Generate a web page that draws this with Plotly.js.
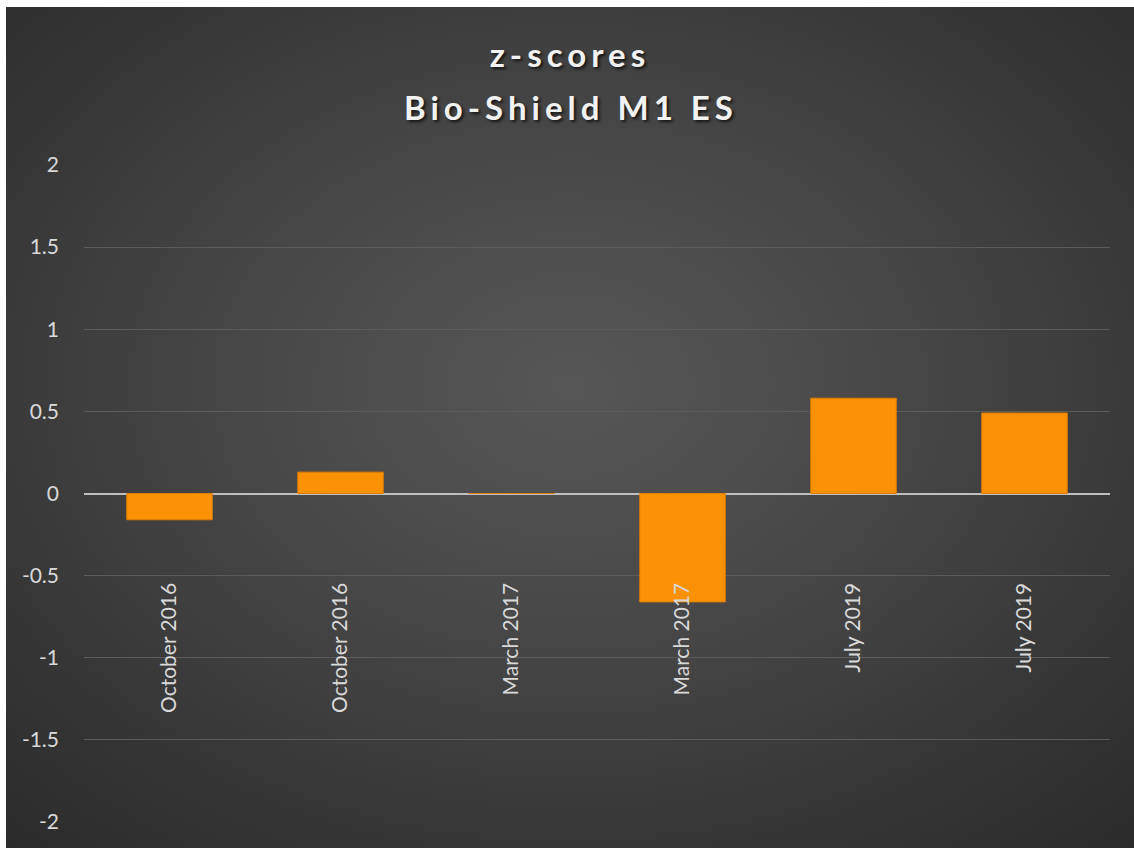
<!DOCTYPE html>
<html>
<head>
<meta charset="utf-8">
<script src="https://cdn.plot.ly/plotly-3.0.1.min.js"></script>
<style>
  html, body { margin: 0; padding: 0; background: #ffffff; }
  #chart {
    position: absolute; left: 6px; top: 7px; width: 1128px; height: 841px;
    background: radial-gradient(ellipse 75% 75% at 50% 45%, #575757 0%, #474747 40%, #333333 80%, #2b2b2b 100%);
  }
  #chart .gtitle, #chart .annotation-text { letter-spacing: 5px; }
</style>
</head>
<body>
<div id="chart"></div>
<script>
const categories = ["October 2016", "October 2016", "March 2017", "March 2017", "July 2019", "July 2019"];
const zScores = [-0.16, 0.13, 0, -0.66, 0.58, 0.49];
const yTickValues = [-2, -1.5, -1, -0.5, 0, 0.5, 1, 1.5, 2];
const yTickLabels = ["-2", "-1.5", "-1", "-0.5", "0", "0.5", "1", "1.5", "2"];
const titleLine1 = "z-scores";
const titleLine2 = "Bio-Shield M1 ES";

const xIdx = categories.map((c, i) => i);

const trace = {
  type: 'bar',
  x: xIdx,
  y: zScores,
  width: 0.5,
  marker: { color: 'rgb(251,146,6)', line: { color: 'rgb(225,125,0)', width: 1 } },
  hoverinfo: 'skip'
};

const titleFont = { family: 'Lato, "Open Sans", sans-serif', size: 33, color: '#f2f2f2', weight: 'bold',
                    shadow: '2px 2px 3px rgba(0,0,0,0.7)' };

const layout = {
  width: 1128, height: 841,
  margin: { l: 78, r: 24, t: 158, b: 26 },
  paper_bgcolor: 'rgba(0,0,0,0)',
  plot_bgcolor: 'rgba(0,0,0,0)',
  showlegend: false,
  font: { family: 'Lato, "Open Sans", sans-serif', color: '#d9d9d9', size: 21 },
  title: {
    text: titleLine1,
    x: 0.5, xanchor: 'center',
    y: 1 - 48.5 / 841, yref: 'container', yanchor: 'middle',
    font: titleFont
  },
  annotations: [{
    text: titleLine2,
    xref: 'paper', yref: 'paper',
    x: (571 - 84) / 1026, xanchor: 'center',
    y: 1 + (158 - 99.5) / 657, yanchor: 'middle',
    showarrow: false,
    font: titleFont
  }],
  xaxis: {
    type: 'linear',
    range: [-0.5, 5.5],
    tickmode: 'array',
    tickvals: xIdx,
    ticktext: categories,
    tickangle: -90,
    showgrid: false,
    zeroline: false,
    showline: false,
    ticks: '',
    anchor: 'free',
    position: 0.372,
    tickfont: { size: 21, color: '#d9d9d9' },
    fixedrange: true
  },
  yaxis: {
    range: [-2, 2],
    tickmode: 'array',
    tickvals: yTickValues,
    ticktext: yTickLabels,
    showgrid: true,
    gridcolor: '#5c5c5c',
    gridwidth: 1,
    zeroline: true,
    zerolinecolor: '#bfbfbf',
    zerolinewidth: 2,
    showline: false,
    ticks: '',
    ticklabelstandoff: 24,
    tickfont: { size: 21, color: '#d9d9d9' },
    fixedrange: true
  }
};

Plotly.newPlot('chart', [trace], layout, { displayModeBar: false, staticPlot: true });
</script>
</body>
</html>
